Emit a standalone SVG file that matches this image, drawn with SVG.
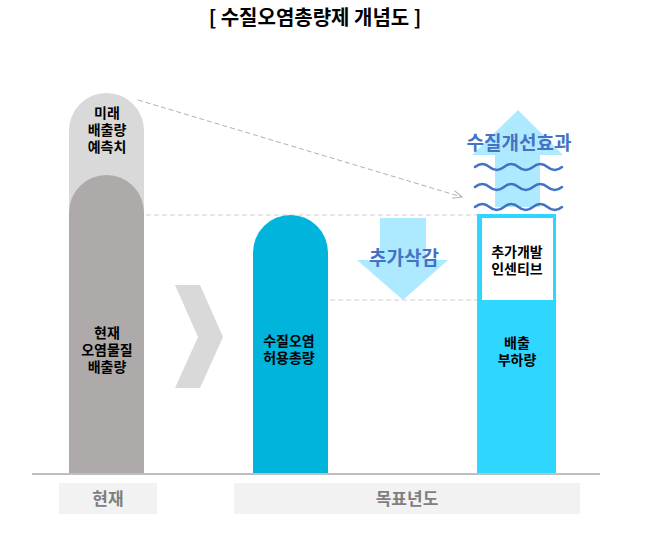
<svg xmlns="http://www.w3.org/2000/svg" width="653" height="559" viewBox="0 0 653 559">
<defs>
<style>
text{font-family:"Noto Sans CJK KR","Noto Sans",sans-serif;font-weight:bold;text-anchor:middle}
.lbl{font-size:14px;fill:#000}
.blue{font-size:19px;fill:#4472c4}
.axis{font-size:17px;fill:#7f7f7f}
.dash{stroke:#d0d0d0;stroke-width:1.2;stroke-dasharray:5 3;fill:none}
.wave{stroke:#4472c4;stroke-width:2.5;fill:none;stroke-linecap:round}
</style>
<marker id="open" markerWidth="12" markerHeight="10" refX="10" refY="5" orient="auto" markerUnits="userSpaceOnUse">
<path d="M1,1 L10,5 L1,9" fill="none" stroke="#b0b0b0" stroke-width="1"/>
</marker>
</defs>
<rect width="653" height="559" fill="#fff"/>
<text x="315" y="25" style="font-size:20px;fill:#000">[ 수질오염총량제 개념도 ]</text>

<g id="connectors">
<line class="dash" x1="146" y1="215" x2="478" y2="215"/>
<line class="dash" x1="290" y1="300" x2="478" y2="300"/>
<line x1="138" y1="100" x2="462" y2="197" stroke="#b0b0b0" stroke-width="1" stroke-dasharray="5 3" marker-end="url(#open)"/>
</g>

<g id="future">
<path d="M69,474 V130.5 A37.5,37.5 0 0 1 144,130.5 V474 Z" fill="#d9d9d9"/>
<text class="lbl" x="107" y="118">미래</text>
<text class="lbl" x="107" y="135">배출량</text>
<text class="lbl" x="107" y="152">예측치</text>
</g>
<g id="current">
<path d="M69,474 V212.5 A37.5,37.5 0 0 1 144,212.5 V474 Z" fill="#aeaaaa"/>
<text class="lbl" x="107" y="338">현재</text>
<text class="lbl" x="107" y="355">오염물질</text>
<text class="lbl" x="107" y="372">배출량</text>
</g>

<g id="chevron">
<polygon points="175,285 200,285 223,337 200,388 175,388 198,337" fill="#d9d9d9"/>
</g>

<g id="allowed">
<path d="M253,474 V252.5 A37.5,37.5 0 0 1 328,252.5 V474 Z" fill="#00b4dc"/>
<text class="lbl" x="289" y="346">수질오염</text>
<text class="lbl" x="289" y="363">허용총량</text>
</g>

<g id="reduction">
<polygon points="380,218 426,218 426,260 448,260 403,300 357,260 380,260" fill="#aeeaff"/>
<text class="blue" x="404" y="265">추가삭감</text>
</g>

<g id="improvement">
<polygon points="495,207 540,207 540,155 563,155 518,110 472,155 495,155" fill="#aeeaff"/>
<text class="blue" x="519" y="150">수질개선효과</text>
<path class="wave" d="M475,167 q7.25,-6 14.5,0 t14.5,0 t14.5,0 t14.5,0 t14.5,0 t14.5,0"/>
<path class="wave" d="M475,187 q7.25,-6 14.5,0 t14.5,0 t14.5,0 t14.5,0 t14.5,0 t14.5,0"/>
<path class="wave" d="M475,207 q7.25,-6 14.5,0 t14.5,0 t14.5,0 t14.5,0 t14.5,0 t14.5,0"/>
</g>

<g id="load">
<rect x="477" y="214" width="79" height="260" fill="#2fd6ff"/>
<rect x="482" y="218" width="71" height="82" fill="#fff"/>
<text class="lbl" x="517" y="257">추가개발</text>
<text class="lbl" x="517" y="274">인센티브</text>
<text class="lbl" x="517" y="348">배출</text>
<text class="lbl" x="517" y="365">부하량</text>
</g>

<g id="axis">
<line x1="32" y1="474" x2="600" y2="474" stroke="#bfbfbf" stroke-width="2"/>
<rect x="59" y="483" width="98" height="31" fill="#f2f2f2"/>
<text class="axis" x="108" y="505">현재</text>
<rect x="234" y="483" width="346" height="31" fill="#f2f2f2"/>
<text class="axis" x="407" y="505">목표년도</text>
</g>
</svg>
